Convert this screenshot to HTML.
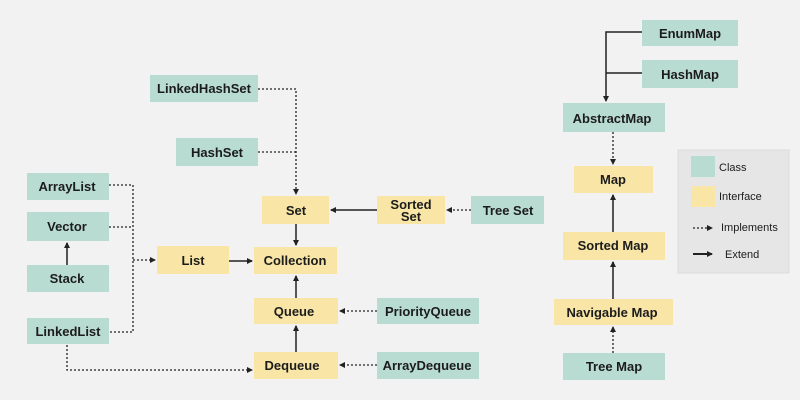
<!DOCTYPE html>
<html><head><meta charset="utf-8"><style>
html,body{margin:0;padding:0;background:#f2f2f2;}
svg{display:block;}
text{font-family:"Liberation Sans",sans-serif;font-weight:bold;fill:#1c1c1c;font-size:13px;}
</style></head><body>
<svg width="800" height="400" viewBox="0 0 800 400" xmlns="http://www.w3.org/2000/svg">
<defs>
<marker id="a" markerWidth="6" markerHeight="6" refX="5" refY="3" orient="auto" markerUnits="userSpaceOnUse"><path d="M0,0 L6,3 L0,6 z" fill="#222"/></marker>
</defs>
<rect width="800" height="400" fill="#f2f2f2"/>
<g fill="#b9dcd2">
<rect x="150" y="75" width="108" height="27"/>
<rect x="176" y="138" width="82" height="28"/>
<rect x="27" y="173" width="82" height="27"/>
<rect x="27" y="212" width="82" height="29"/>
<rect x="27" y="265" width="82" height="27"/>
<rect x="27" y="318" width="82" height="26"/>
<rect x="471" y="196" width="73" height="28"/>
<rect x="377" y="298" width="102" height="26"/>
<rect x="377" y="352" width="102" height="27"/>
<rect x="642" y="20" width="96" height="26"/>
<rect x="642" y="60" width="96" height="28"/>
<rect x="563" y="103" width="102" height="29"/>
<rect x="563" y="353" width="102" height="27"/>
</g>
<g fill="#f9e6a7">
<rect x="157" y="246" width="72" height="28"/>
<rect x="254" y="247" width="83" height="27"/>
<rect x="262" y="196" width="67" height="28"/>
<rect x="254" y="298" width="84" height="26"/>
<rect x="254" y="352" width="84" height="27"/>
<rect x="377" y="196" width="68" height="28"/>
<rect x="574" y="166" width="79" height="27"/>
<rect x="563" y="232" width="102" height="28"/>
<rect x="554" y="299" width="119" height="26"/>
</g>
<rect x="678" y="150" width="111" height="123" fill="#e6e6e6" stroke="#dcdcdc"/>
<rect x="691" y="156" width="24" height="21" fill="#b9dcd2"/>
<rect x="691" y="186" width="24" height="21" fill="#f9e6a7"/>
<g stroke="#222" stroke-width="1.3" stroke-dasharray="2,2" fill="none">
<path d="M258,89 H296 V194" marker-end="url(#a)"/>
<path d="M258,152 H296"/>
<path d="M109,185 H133 V332 H109"/>
<path d="M109,227 H133"/>
<path d="M133,260 H155" marker-end="url(#a)"/>
<path d="M67,345 V370 H252" marker-end="url(#a)"/>
<path d="M471,210 H447" marker-end="url(#a)"/>
<path d="M377,311 H340" marker-end="url(#a)"/>
<path d="M377,365 H340" marker-end="url(#a)"/>
<path d="M613,132 V164" marker-end="url(#a)"/>
<path d="M613,353 V327" marker-end="url(#a)"/>
<path d="M693,228 H712" marker-end="url(#a)"/>
</g>
<g stroke="#555" stroke-width="2" fill="none">
<path d="M377,210 H331" marker-end="url(#a)"/>
<path d="M296,224 V245" marker-end="url(#a)"/>
<path d="M229,261 H252" marker-end="url(#a)"/>
<path d="M296,298 V276" marker-end="url(#a)"/>
<path d="M296,352 V326" marker-end="url(#a)"/>
<path d="M67,265 V243" marker-end="url(#a)"/>
<path d="M613,232 V195" marker-end="url(#a)"/>
<path d="M613,299 V262" marker-end="url(#a)"/>
<path d="M642,73 H606"/>
</g>
<path d="M642,32 H606 V101" stroke="#222" stroke-width="1.5" fill="none" marker-end="url(#a)"/>
<path d="M693,254 H712" stroke="#222" stroke-width="2" fill="none" marker-end="url(#a)"/>
<g text-anchor="middle">
<text x="204" y="93">LinkedHashSet</text>
<text x="217" y="157">HashSet</text>
<text x="67" y="191">ArrayList</text>
<text x="67" y="231">Vector</text>
<text x="67" y="283">Stack</text>
<text x="68" y="336">LinkedList</text>
<text x="193" y="265">List</text>
<text x="295" y="265">Collection</text>
<text x="296" y="215">Set</text>
<text x="294" y="316">Queue</text>
<text x="292" y="370">Dequeue</text>
<text x="411" y="209" font-size="12">Sorted</text>
<text x="411" y="221" font-size="12">Set</text>
<text x="508" y="215">Tree Set</text>
<text x="428" y="316" font-size="14">PriorityQueue</text>
<text x="427" y="370" font-size="12">ArrayDequeue</text>
<text x="690" y="38">EnumMap</text>
<text x="690" y="79">HashMap</text>
<text x="612" y="123">AbstractMap</text>
<text x="613" y="184">Map</text>
<text x="613" y="250">Sorted Map</text>
<text x="612" y="317">Navigable Map</text>
<text x="614" y="371">Tree Map</text>
</g>
<g font-size="11">
<text x="719" y="171" style="font-weight:normal;font-size:11px">Class</text>
<text x="719" y="200" style="font-weight:normal;font-size:11px">Interface</text>
<text x="721" y="231" style="font-weight:normal;font-size:11px">Implements</text>
<text x="725" y="258" style="font-weight:normal;font-size:11px">Extend</text>
</g>
</svg>
</body></html>
